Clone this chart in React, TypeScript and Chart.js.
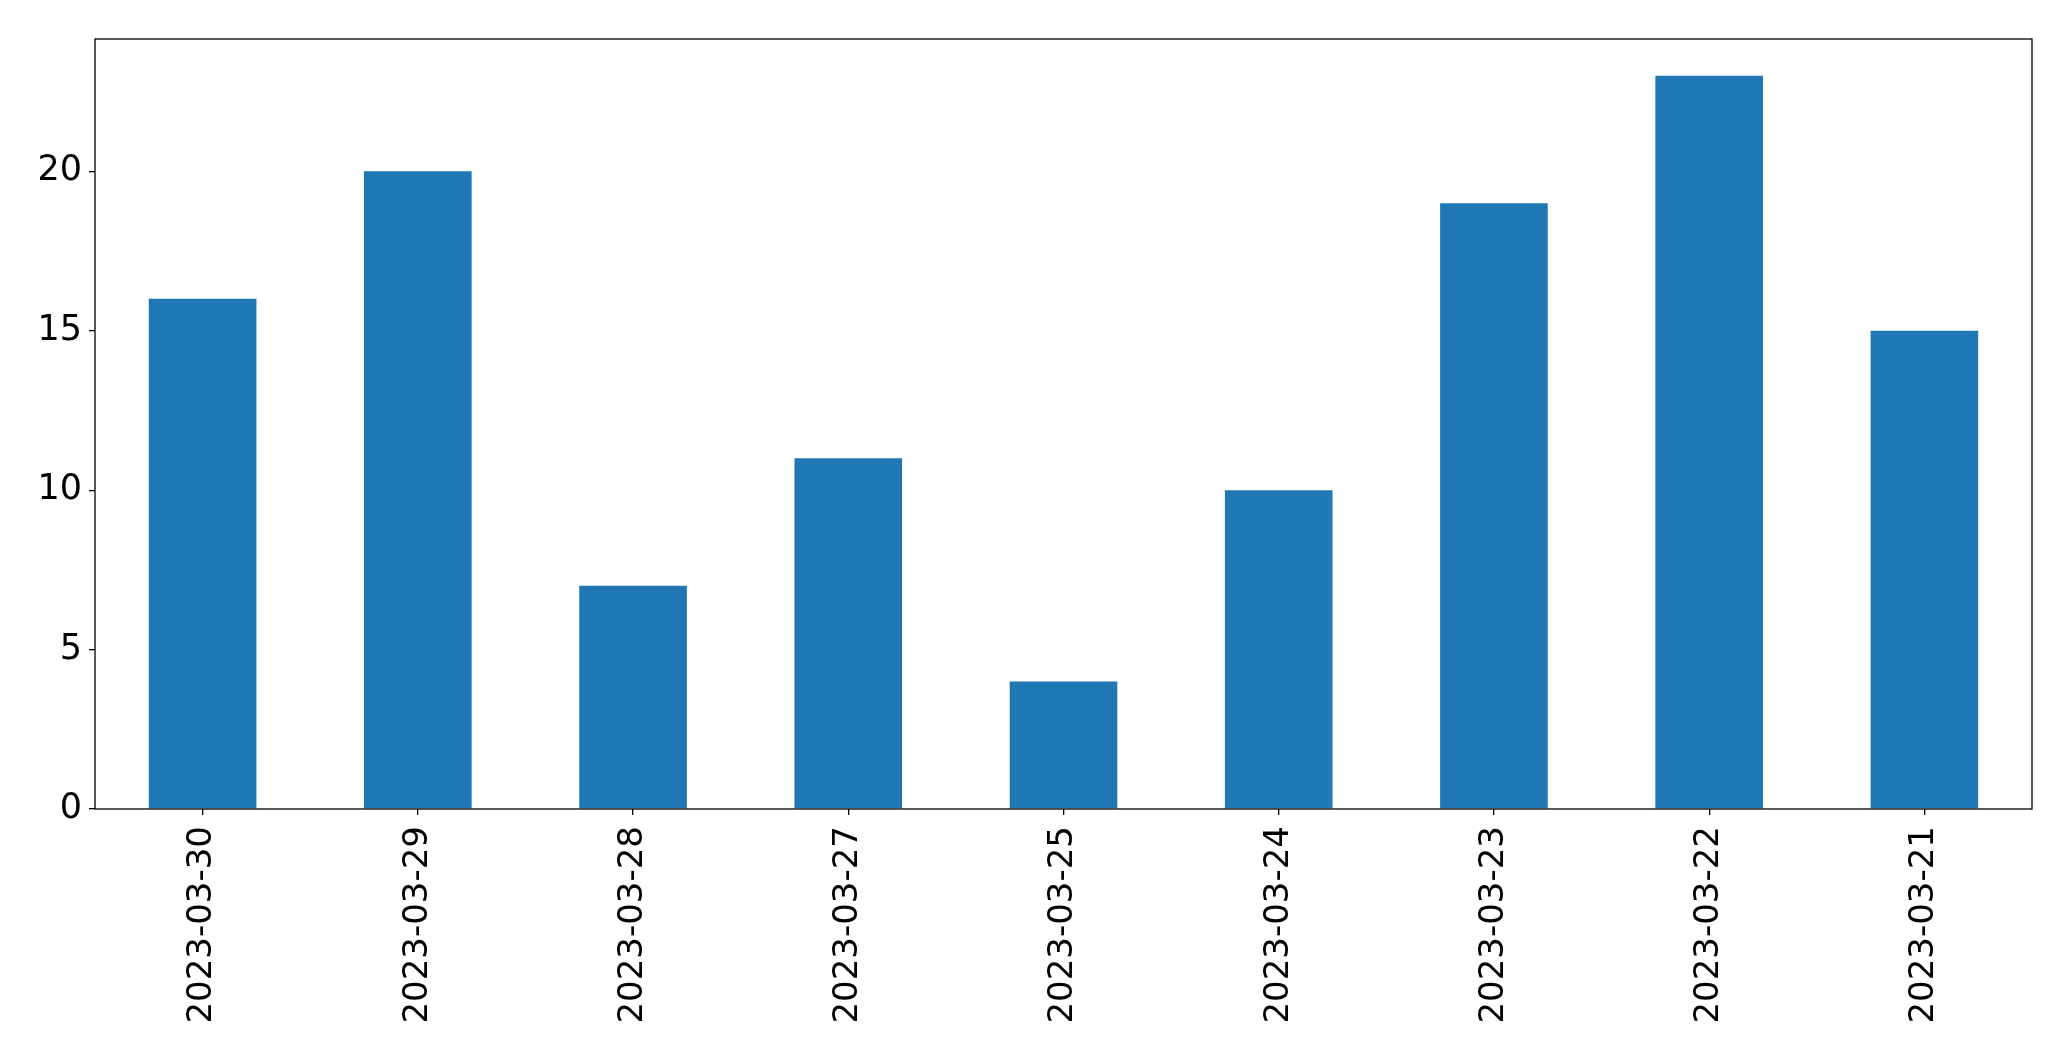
import React, { useEffect, useRef } from "react";
import { Chart, registerables } from "chart.js";

Chart.register(...registerables);

const categories = [
  "2023-03-30",
  "2023-03-29",
  "2023-03-28",
  "2023-03-27",
  "2023-03-25",
  "2023-03-24",
  "2023-03-23",
  "2023-03-22",
  "2023-03-21",
];
const values = [16, 20, 7, 11, 4, 10, 19, 23, 15];
const yTicks = [0, 5, 10, 15, 20];

const W = 2071;
const H = 1061;

const framePlugin = {
  id: "frame",
  afterDraw(chart: any) {
    const { ctx, chartArea } = chart;
    ctx.save();
    ctx.strokeStyle = "#000";
    ctx.lineWidth = 1.3;
    ctx.strokeRect(chartArea.left, chartArea.top, chartArea.right - chartArea.left, chartArea.bottom - chartArea.top);
    ctx.restore();
  },
};

export default function App() {
  const ref = useRef<HTMLCanvasElement | null>(null);
  useEffect(() => {
    document.body.style.margin = "0";
    const canvas = ref.current!;
    const xFont = { family: "'DejaVu Sans', sans-serif", size: 34 };
    const yFont = { family: "'DejaVu Sans', sans-serif", size: 35 };
    const chart = new Chart(canvas, {
      type: "bar",
      data: {
        labels: categories,
        datasets: [
          {
            data: values,
            backgroundColor: "#1f77b4",
            borderWidth: 0,
            barPercentage: 0.5,
            categoryPercentage: 1,
          },
        ],
      },
      options: {
        animation: false,
        responsive: false,
        devicePixelRatio: 1,
        layout: { padding: { top: 39, right: 39, left: 0, bottom: 0 } },
        plugins: { legend: { display: false }, tooltip: { enabled: false } },
        scales: {
          x: {
            offset: true,
            grid: {
              display: true,
              drawOnChartArea: false,
              drawTicks: true,
              tickLength: 6,
              color: "#000",
              lineWidth: 1.3,
              offset: false,
            },
            border: { display: false },
            ticks: {
              font: xFont,
              color: "#000",
              minRotation: 90,
              maxRotation: 90,
              padding: 11,
              autoSkip: false,
            },
            afterFit(scale: any) {
              scale.height = 252;
            },
          },
          y: {
            min: 0,
            max: 24.15,
            grid: {
              display: true,
              drawOnChartArea: false,
              drawTicks: true,
              tickLength: 6,
              color: "#000",
              lineWidth: 1.3,
            },
            border: { display: false },
            ticks: { font: yFont, color: "#000", padding: 7 },
            afterBuildTicks(scale: any) {
              scale.ticks = yTicks.map((v) => ({ value: v }));
            },
            afterFit(scale: any) {
              scale.width = 95;
            },
          },
        },
      },
      plugins: [framePlugin],
    });
    return () => chart.destroy();
  }, []);
  return (
    <div style={{ width: W, height: H, background: "#fff" }}>
      <canvas ref={ref} width={W} height={H} style={{ display: "block" }} />
    </div>
  );
}
